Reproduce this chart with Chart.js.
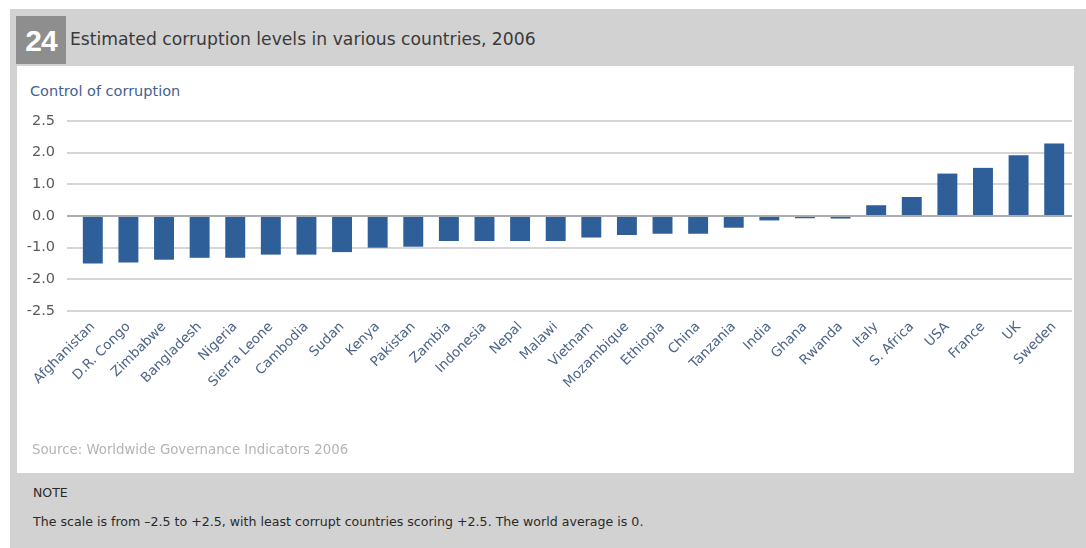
<!DOCTYPE html>
<html>
<head>
<meta charset="utf-8">
<script src="https://cdn.jsdelivr.net/npm/chart.js@4"></script>
<style>
    body { margin: 0; width: 1086px; height: 548px; background: #fff; position: relative; overflow: hidden; font-family: "DejaVu Sans", sans-serif; }
    #frame { position: absolute; left: 10px; top: 9px; width: 1076px; height: 539px; background: #d2d2d2; }
    #panel { position: absolute; left: 17px; top: 66px; width: 1057px; height: 407px; background: #fff; }
    #num { position: absolute; left: 16px; top: 16px; width: 50px; height: 48px; background: #8e8e8e; color: #fff; font: bold 30px "Liberation Sans", sans-serif; line-height: 50px; text-align: center; letter-spacing: -1px; }
    #title { position: absolute; left: 70px; top: 29px; font-size: 17.2px; color: #3a3a3a; }
    #ylab { position: absolute; left: 30px; top: 83px; font-size: 14.5px; color: #44628f; }
    #source { position: absolute; left: 32px; top: 442px; font-size: 13.3px; color: #b4b4b4; }
    #note1 { position: absolute; left: 33px; top: 485px; font-size: 12.5px; color: #2a2a2a; }
    #note2 { position: absolute; left: 33px; top: 514px; font-size: 12.6px; color: #2a2a2a; }
    #chart { position: absolute; left: 18px; top: 66px; }
</style>
</head>
<body>
<div id="frame"></div>
<div id="panel"></div>
<div id="num">24</div>
<div id="title">Estimated corruption levels in various countries, 2006</div>
<div id="ylab">Control of corruption</div>
<canvas id="chart" width="1060" height="406"></canvas>
<div id="source">Source: Worldwide Governance Indicators 2006</div>
<div id="note1">NOTE</div>
<div id="note2">The scale is from &#8211;2.5 to +2.5, with least corrupt countries scoring +2.5. The world average is 0.</div>
<script>
// countries, least to most clean
const countries = ['Afghanistan', 'D.R. Congo', 'Zimbabwe', 'Bangladesh', 'Nigeria', 'Sierra Leone', 'Cambodia',
    'Sudan', 'Kenya', 'Pakistan', 'Zambia', 'Indonesia', 'Nepal', 'Malawi', 'Vietnam', 'Mozambique',
    'Ethiopia', 'China', 'Tanzania', 'India', 'Ghana', 'Rwanda', 'Italy', 'S. Africa', 'USA', 'France', 'UK', 'Sweden'];

// control of corruption score as plotted (one gridline per unit)
const corruption = [-1.50, -1.47, -1.38, -1.32, -1.32, -1.22, -1.22,
    -1.14, -1.00, -0.97, -0.79, -0.79, -0.79, -0.79, -0.68, -0.60,
    -0.56, -0.56, -0.37, -0.14, -0.07, -0.08, 0.34, 0.60, 1.34, 1.52, 1.92, 2.29];

// the gridlines carry these labels in the original
const yTickValues = [-3, -2, -1, 0, 1, 2, 3];
const yTickLabels = ['-2.5', '-2.0', '-1.0', '0.0', '1.0', '2.0', '2.5'];

const ctx = document.getElementById('chart');
new Chart(ctx, {
    type: 'bar',
    data: {
        labels: countries,
        datasets: [{
            label: 'Control of corruption',
            data: corruption,
            backgroundColor: '#2f5f99',
            barPercentage: 0.56,
            categoryPercentage: 1.0,
        }],
    },
    options: {
        responsive: false,
        animation: false,
        layout: { padding: { top: 55, right: 6, left: 0, bottom: 0 } },
        plugins: {
            legend: { display: false },
            tooltip: { enabled: false },
        },
        scales: {
            x: {
                grid: { display: false },
                border: { display: false },
                ticks: {
                    color: '#4d6488',
                    font: { family: 'DejaVu Sans', size: 13.5 },
                    minRotation: 45,
                    maxRotation: 45,
                    autoSkip: false,
                    padding: 0,
                },
                afterFit: function (scale) { scale.height = 161; },
            },
            y: {
                min: -3,
                max: 3,
                border: { display: false },
                grid: {
                    color: function (c) { return c.tick && c.tick.value === 0 ? '#a9acb0' : '#d6d6d6'; },
                    lineWidth: 2,
                    tickLength: 8,
                },
                afterBuildTicks: function (scale) {
                    scale.ticks = yTickValues.map(v => ({ value: v }));
                },
                ticks: {
                    color: '#5a5a5a',
                    font: { family: 'DejaVu Sans', size: 14.5 },
                    padding: 12,
                    callback: function (value) {
                        return yTickLabels[yTickValues.indexOf(value)];
                    },
                },
                afterFit: function (scale) { scale.width = 57; },
            },
        },
    },
});
</script>
</body>
</html>
